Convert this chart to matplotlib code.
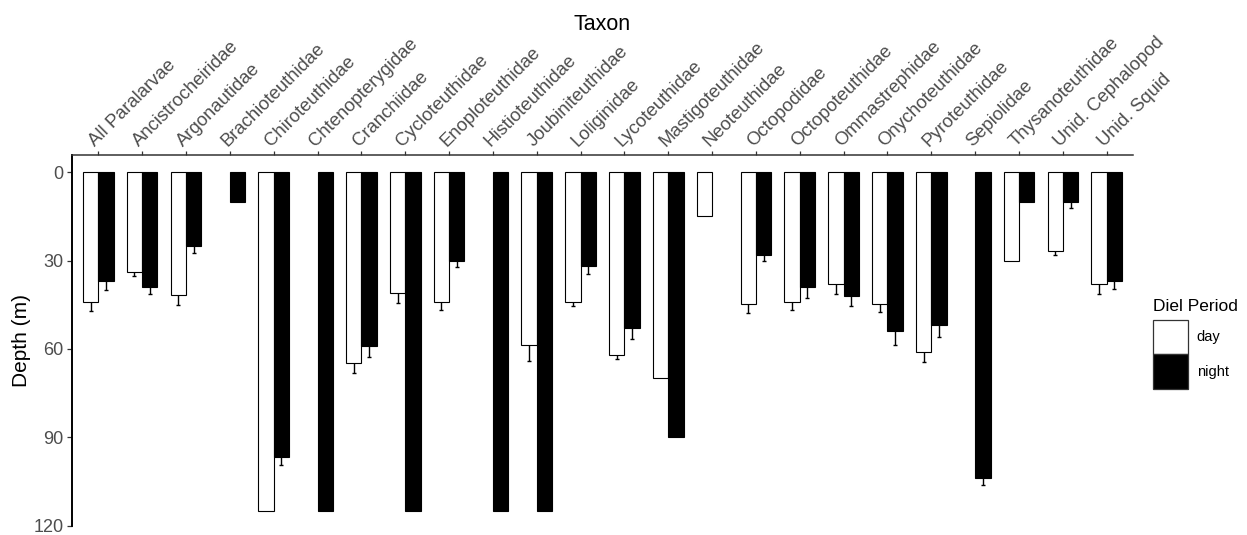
import numpy as np
import matplotlib
matplotlib.use("Agg")
import matplotlib.pyplot as plt
from matplotlib.patches import Patch

plt.rcParams["font.family"] = ["Liberation Sans", "DejaVu Sans"]

nan = np.nan

taxa = [
    "All Paralarvae", "Ancistrocheiridae", "Argonautidae", "Brachioteuthidae",
    "Chiroteuthidae", "Chtenopterygidae", "Cranchiidae", "Cycloteuthidae",
    "Enoploteuthidae", "Histioteuthidae", "Joubiniteuthidae", "Loliginidae",
    "Lycoteuthidae", "Mastigoteuthidae", "Neoteuthidae", "Octopodidae",
    "Octopoteuthidae", "Ommastrephidae", "Onychoteuthidae", "Pyroteuthidae",
    "Sepiolidae", "Thysanoteuthidae", "Unid. Cephalopod", "Unid. Squid",
]

# Mean depth (m) and standard error by diel period
day_mean = [44.0, 33.9, 41.8, nan, 115.0, nan, 64.8, 40.9, 44.0, nan, 58.7, 44.0,
            62.0, 70.0, 15.0, 44.9, 44.0, 37.9, 44.9, 61.0, nan, 30.0, 26.8, 37.9]
day_se = [3.2, 1.5, 3.4, nan, nan, nan, 3.5, 3.4, 2.9, nan, 5.5, 1.4,
          1.5, nan, nan, 2.9, 2.9, 3.3, 2.6, 3.5, nan, nan, 1.4, 3.3]
night_mean = [37.1, 39.0, 25.1, 10.0, 96.9, 115.0, 59.0, 115.0, 30.0, 115.0, 115.0, 32.0,
              53.0, 90.0, nan, 28.1, 38.9, 41.9, 54.1, 51.9, 103.9, 10.0, 10.1, 37.0]
night_se = [3.0, 2.2, 2.3, nan, 2.5, nan, 3.8, nan, 2.1, nan, nan, 2.6,
            3.5, nan, nan, 1.9, 3.7, 3.6, 4.6, 4.2, 2.4, nan, 2.1, 2.8]

y_ticks = [0, 30, 60, 90, 120]
periods = ["day", "night"]
fills = {"day": "white", "night": "black"}

fig = plt.figure(figsize=(12.47, 5.35), dpi=100)
# panel: x 72..1133 px, y 155..525 px (from top)
ax = fig.add_axes([72 / 1247, 1 - 525.5 / 535, (1133 - 72) / 1247, (525.5 - 155) / 535])

x = np.arange(len(taxa))
width = 0.35
offsets = {"day": -width / 2, "night": width / 2}
series = {"day": (np.array(day_mean), np.array(day_se)),
          "night": (np.array(night_mean), np.array(night_se))}

for p in periods:
    mean, se = series[p]
    xp = x + offsets[p]
    ok = np.isfinite(mean)
    ax.bar(xp[ok], mean[ok], width=width, color=fills[p], edgecolor="black",
           linewidth=0.8, zorder=3)
    ek = ok & np.isfinite(se)
    ax.errorbar(xp[ek], mean[ek], yerr=se[ek], fmt="none", ecolor="black",
                elinewidth=1.0, capsize=1.7, capthick=1.0, zorder=2)

ax.set_xlim(-0.6, len(taxa) - 0.4)
ax.set_ylim(120, -5.85)
ax.set_yticks(y_ticks)
ax.set_yticklabels([str(v) for v in y_ticks])

ax.xaxis.tick_top()
ax.set_xticks(x)
ax.set_xticklabels(taxa, rotation=45, ha="left", va="bottom",
                   rotation_mode="anchor")

for s in ("right", "bottom"):
    ax.spines[s].set_visible(False)
ax.spines["left"].set_linewidth(1.4)
ax.spines["left"].set_color("black")
ax.spines["top"].set_linewidth(1.1)
ax.spines["top"].set_color("#333333")

ax.tick_params(axis="x", which="both", top=True, bottom=False, length=3,
               width=0.9, color="#333333", labelsize=13.3, labelcolor="#4D4D4D", pad=0.5)
ax.tick_params(axis="y", length=3.6, width=0.9, color="#333333",
               labelsize=13, labelcolor="#4D4D4D", pad=2.5)

ax.set_ylabel("Depth (m)", fontsize=15, color="black", labelpad=2)
fig.text(602.5 / 1247, 1 - 29.5 / 535, "Taxon", fontsize=15.5, ha="center",
         va="baseline", color="black")

handles = [Patch(facecolor=fills[p], edgecolor="#333333", linewidth=0.9, label=p)
           for p in periods]
leg = fig.legend(handles=handles, title="Diel Period", loc="upper left",
                 bbox_to_anchor=(1153 / 1247, 1 - 299 / 535), frameon=False,
                 fontsize=10.5, title_fontsize=12.5, handlelength=2.4,
                 handleheight=3.25, labelspacing=0.0, handletextpad=0.6,
                 borderpad=0.0, borderaxespad=0.0, alignment="left")
# gap between the legend title and the keys
leg._legend_box.sep = 4.3

fig.savefig("out.png", dpi=100)
